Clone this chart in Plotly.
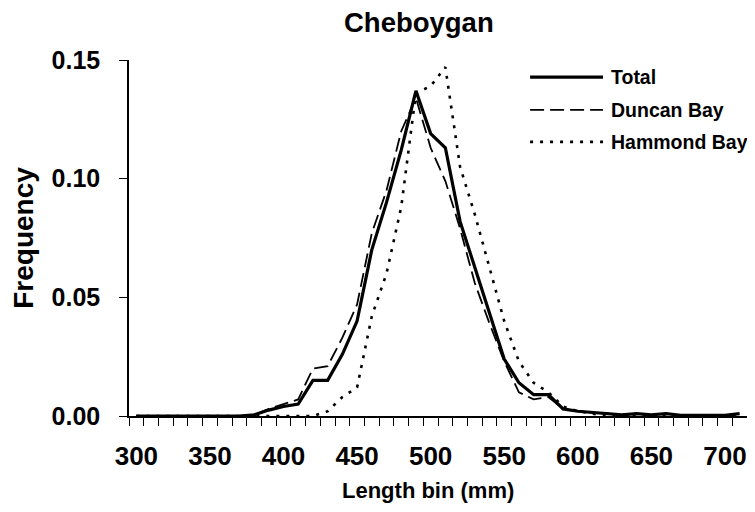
import plotly.graph_objects as go

# length bins (mm)
length_bins = list(range(300, 720, 10))

total = [0, 0, 0, 0, 0, 0, 0, 0, 0.0005, 0.0025,
         0.004, 0.005, 0.015, 0.015, 0.026, 0.040, 0.070, 0.090, 0.112, 0.137,
         0.119, 0.113, 0.082, 0.063, 0.044, 0.024, 0.014, 0.009, 0.009, 0.003,
         0.002, 0.0015, 0.001, 0.0005, 0.001, 0.0005, 0.001, 0.0003, 0.0003, 0.0003,
         0.0003, 0.001]
duncan_bay = [0, 0, 0, 0, 0, 0, 0, 0, 0.0005, 0.003,
              0.005, 0.007, 0.020, 0.021, 0.033, 0.047, 0.077, 0.095, 0.120, 0.134,
              0.113, 0.099, 0.079, 0.056, 0.039, 0.023, 0.010, 0.007, 0.008, 0.003,
              0.002, 0.0015, 0.001, 0.0005, 0.001, 0.0005, 0.001, 0.0003, 0.0003, 0.0003,
              0.0003, 0.001]
hammond_bay = [0, 0, 0, 0, 0, 0, 0, 0, 0, 0,
               0, 0, 0, 0.002, 0.008, 0.012, 0.042, 0.060, 0.088, 0.136,
               0.139, 0.147, 0.105, 0.085, 0.062, 0.040, 0.023, 0.014, 0.010, 0.004,
               0.002, 0.001, 0, 0, 0, 0, 0, 0, 0, 0,
               0, 0]

series_names = ["Total", "Duncan Bay", "Hammond Bay"]

FONT = "Liberation Sans, Arial, sans-serif"

styles = [
    dict(color="black", width=3.2, dash="solid"),
    dict(color="black", width=1.8, dash="14px,6px"),
    dict(color="black", width=2.6, dash="3px,7px"),
]

fig = go.Figure()
for name, ys, st in zip(series_names, [total, duncan_bay, hammond_bay], styles):
    fig.add_trace(go.Scatter(
        x=length_bins, y=ys, mode="lines", name=name,
        line=st, showlegend=False,
    ))

# legend drawn by hand so the sample lines are long like the original
legend_y = [0.952, 0.86, 0.77]
for name, st, ly in zip(series_names, styles, legend_y):
    fig.add_shape(type="line", xref="paper", yref="paper",
                  x0=0.649, x1=0.767, y0=ly, y1=ly, line=st)
    fig.add_annotation(xref="paper", yref="paper", x=0.776, y=ly,
                       text=name, showarrow=False, xanchor="left",
                       yanchor="middle", font=dict(size=19.5))

# x axis title sits a little left of centre in the original
fig.add_annotation(xref="paper", yref="paper", x=0.484, y=-0.208,
                   text="Length bin (mm)", showarrow=False,
                   xanchor="center", yanchor="middle", font=dict(size=22))

# the page body has an 8px margin, so the figure is made 8px smaller
fig.update_layout(
    width=747, height=504,
    margin=dict(l=121, r=8, t=52, b=96),
    paper_bgcolor="white",
    plot_bgcolor="white",
    font=dict(family=FONT, color="black", weight="bold"),
    title=dict(text="Cheboygan", x=0.469, xref="paper", y=0.99,
               yanchor="top", font=dict(size=27.5)),
)

fig.update_xaxes(
    range=[295, 715],
    showline=True, linecolor="black", linewidth=1.5,
    showgrid=False, zeroline=False, automargin=False,
    tickmode="linear", tick0=300, dtick=50,
    ticks="", ticklabelstandoff=16,
    tickfont=dict(size=26),
    minor=dict(tickmode="linear", tick0=295, dtick=10, ticks="outside",
               ticklen=8, tickwidth=1.2, tickcolor="black", showgrid=False),
)

fig.update_yaxes(
    range=[0, 0.15],
    showline=True, linecolor="black", linewidth=1.5,
    showgrid=False, zeroline=False, automargin=False,
    tickmode="linear", tick0=0, dtick=0.05, tickformat=".2f",
    ticks="outside", ticklen=8, tickwidth=1.2, tickcolor="black",
    ticklabelstandoff=14,
    tickfont=dict(size=25),
    title=dict(text="Frequency", font=dict(size=28), standoff=13),
)

fig.write_html("out.html")
